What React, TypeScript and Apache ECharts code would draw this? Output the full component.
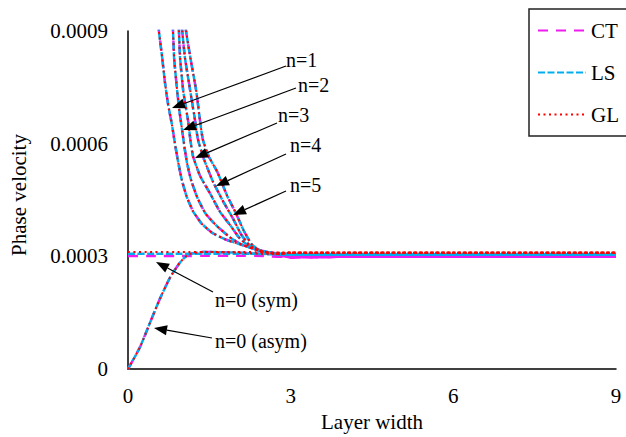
import React, { useEffect, useRef } from 'react';
import * as echarts from 'echarts';

const X_TICKS = ['0', '3', '6', '9'];
const Y_TICKS = ['0', '0.0003', '0.0006', '0.0009'];
const METHODS = ['CT', 'LS', 'GL'];

// Dispersion branches, [layer width, phase velocity]
const N1 = [[0.54, 0.00097], [0.57, 0.0009], [0.63, 0.00083], [0.68, 0.000765], [0.74, 0.000704], [0.81, 0.000651], [0.86, 0.000605], [0.92, 0.000555], [0.99, 0.000505], [1.08, 0.00046], [1.2, 0.00042], [1.36, 0.000387], [1.55, 0.000363], [1.8, 0.000345], [2.05, 0.000333], [2.35, 0.000319], [2.72, 0.000307]];
const N2 = [[0.8, 0.00097], [0.83, 0.0009], [0.85, 0.000829], [0.89, 0.000765], [0.94, 0.000696], [1.0, 0.000634], [1.04, 0.000592], [1.09, 0.000548], [1.16, 0.000505], [1.28, 0.000456], [1.43, 0.000414], [1.63, 0.000382], [1.87, 0.000352], [2.06, 0.000334], [2.38, 0.000317], [2.81, 0.000306]];
const N3 = [[0.92, 0.00096], [0.94, 0.0009], [0.96, 0.000829], [1.02, 0.000739], [1.11, 0.000659], [1.15, 0.000611], [1.2, 0.000566], [1.33, 0.000514], [1.52, 0.000466], [1.7, 0.000418], [1.89, 0.000382], [2.05, 0.00035], [2.25, 0.000325], [2.55, 0.00031]];
const N4 = [[0.97, 0.00096], [1.0, 0.0009], [1.05, 0.000829], [1.15, 0.000739], [1.24, 0.000659], [1.29, 0.000611], [1.4, 0.000559], [1.57, 0.000498], [1.76, 0.000445], [1.94, 0.0004], [2.08, 0.00036], [2.24, 0.00033], [2.5, 0.000312], [2.8, 0.000306]];
const N5 = [[1.03, 0.00096], [1.07, 0.0009], [1.15, 0.000829], [1.26, 0.000739], [1.33, 0.000659], [1.38, 0.000611], [1.49, 0.000566], [1.65, 0.000524], [1.83, 0.000461], [1.98, 0.000418], [2.13, 0.00037], [2.27, 0.000334], [2.42, 0.000316], [2.72, 0.000307]];
const ASYM = [[0, 0], [0.22, 0.000058], [0.41, 0.000125], [0.59, 0.000188], [0.78, 0.000245], [0.96, 0.000284], [1.11, 0.000305], [1.4, 0.000312], [2.0, 0.00031], [2.6, 0.000306]];

const SYM_X = [0, 0.5, 1, 1.5, 2, 2.5];
const CT_SYM = [0.000301, 0.000301, 0.000301, 0.000302, 0.000302, 0.000301];
const LS_SYM = [0.000307, 0.000307, 0.000307, 0.000307, 0.000307, 0.000307];
const GL_SYM = [0.000312, 0.000312, 0.000312, 0.000312, 0.000312, 0.000311];

const TAIL_X = [3, 4, 5, 6, 7, 8, 9];
const CT_TAIL = [0.000298, 0.000299, 0.000299, 0.000299, 0.000299, 0.000299, 0.000299];
const LS_TAIL = [0.000306, 0.000306, 0.000306, 0.000306, 0.000306, 0.000306, 0.000306];
const GL_TAIL = [0.00031, 0.00031, 0.00031, 0.00031, 0.00031, 0.00031, 0.00031];

const SYM_BY_METHOD: Record<string, number[]> = { CT: CT_SYM, LS: LS_SYM, GL: GL_SYM };
const TAIL_BY_METHOD: Record<string, number[]> = { CT: CT_TAIL, LS: LS_TAIL, GL: GL_TAIL };

const LINE_STYLES: Record<string, any> = {
  CT: { color: '#EE1CEE', width: 2.5, type: [10, 8] },
  LS: { color: '#00AEEF', width: 2.5, type: [7, 2.5] },
  GL: { color: '#FF0000', width: 2, type: [2, 3.5] },
};

const FONT = 'Liberation Serif';

// Callouts: label, label anchor, arrow start, arrow tip (pixels)
const CALLOUTS: { text: string; tx: number; ty: number; from: [number, number]; to: [number, number] }[] = [
  { text: 'n=1', tx: 286, ty: 60, from: [286, 66], to: [172, 108] },
  { text: 'n=2', tx: 298, ty: 85, from: [296, 88], to: [183, 130] },
  { text: 'n=3', tx: 278, ty: 115, from: [277, 123], to: [195, 158] },
  { text: 'n=4', tx: 290, ty: 145, from: [286, 154], to: [216, 186] },
  { text: 'n=5', tx: 290, ty: 185, from: [286, 191], to: [233, 215] },
  { text: 'n=0 (sym)', tx: 215, ty: 300, from: [213, 292], to: [156, 262] },
  { text: 'n=0 (asym)', tx: 215, ty: 341, from: [212, 338], to: [154, 328] },
];

function arrow(from: [number, number], to: [number, number]) {
  const [x1, y1] = from;
  const [x2, y2] = to;
  const ang = Math.atan2(y2 - y1, x2 - x1);
  const L = 13;
  const W = 5;
  const bx = x2 - L * Math.cos(ang);
  const by = y2 - L * Math.sin(ang);
  const px = -Math.sin(ang) * W;
  const py = Math.cos(ang) * W;
  return [
    { type: 'line', z: 100, shape: { x1, y1, x2: bx, y2: by }, style: { stroke: '#000', lineWidth: 1.2 } },
    { type: 'polygon', z: 100, shape: { points: [[x2, y2], [bx + px, by + py], [bx - px, by - py]] }, style: { fill: '#000' } },
  ];
}

function buildSeries() {
  const series: any[] = [];
  METHODS.forEach((m) => {
    const tail = TAIL_X.map((x, i) => [x, TAIL_BY_METHOD[m][i]]);
    const sym = SYM_X.map((x, i) => [x, SYM_BY_METHOD[m][i]]).concat(tail);
    const branches = [sym, ASYM.concat(tail), ...[N1, N2, N3, N4, N5].map((d) => d.concat(tail))];
    branches.forEach((data) => {
      series.push({
        name: m,
        type: 'line',
        data,
        showSymbol: false,
        symbol: 'none',
        symbolSize: 0,
        smooth: 0.15,
        clip: true,
        lineStyle: LINE_STYLES[m],
        itemStyle: { color: LINE_STYLES[m].color },
        emphasis: { disabled: true },
      });
    });
  });
  return series;
}

export default function App() {
  const ref = useRef<HTMLDivElement>(null);

  useEffect(() => {
    if (!ref.current) return;
    const chart = echarts.init(ref.current, undefined, { renderer: 'svg' });
    const graphic: any[] = [
      {
        type: 'text',
        x: 19,
        y: 195,
        rotation: Math.PI / 2,
        style: { text: 'Phase velocity', fontFamily: FONT, fontSize: 21, fill: '#000', align: 'center', verticalAlign: 'middle' },
      },
    ];
    CALLOUTS.forEach((c) => {
      graphic.push(...arrow(c.from, c.to));
      graphic.push({
        type: 'text',
        z: 100,
        x: c.tx,
        y: c.ty,
        style: { text: c.text, fontFamily: FONT, fontSize: 20, fill: '#000', align: 'left', verticalAlign: 'middle' },
      });
    });

    chart.setOption({
      animation: false,
      backgroundColor: '#fff',
      grid: { left: 128, right: 10, top: 31, bottom: 66 },
      legend: {
        data: METHODS,
        orient: 'vertical',
        left: 529,
        top: 9,
        itemWidth: 48,
        itemHeight: 20,
        itemGap: 21,
        padding: [11, 40, 11, 8],
        borderColor: '#222',
        borderWidth: 1.5,
        selectedMode: false,
        itemStyle: { opacity: 0 },
        textStyle: { fontFamily: FONT, fontSize: 21, color: '#000' },
      },
      xAxis: {
        type: 'value',
        min: 0,
        max: 9,
        interval: 3,
        name: 'Layer width',
        nameLocation: 'middle',
        nameGap: 38,
        nameTextStyle: { fontFamily: FONT, fontSize: 21, color: '#000' },
        axisLine: { lineStyle: { color: '#000', width: 1.5 } },
        axisTick: { show: false },
        splitLine: { show: false },
        axisLabel: {
          fontFamily: FONT,
          fontSize: 21,
          color: '#000',
          margin: 16,
          formatter: (_v: number, i: number) => X_TICKS[i],
        },
      },
      yAxis: {
        type: 'value',
        min: 0,
        max: 0.0009,
        interval: 0.0003,
        axisLine: { show: true, lineStyle: { color: '#000', width: 1.5 } },
        axisTick: { show: false },
        splitLine: { show: false },
        axisLabel: {
          fontFamily: FONT,
          fontSize: 21,
          color: '#000',
          margin: 20,
          formatter: (_v: number, i: number) => Y_TICKS[i],
        },
      },
      graphic,
      series: buildSeries(),
    });
    return () => chart.dispose();
  }, []);

  return <div ref={ref} style={{ position: 'absolute', left: 0, top: 0, width: 626, height: 437 }} />;
}
